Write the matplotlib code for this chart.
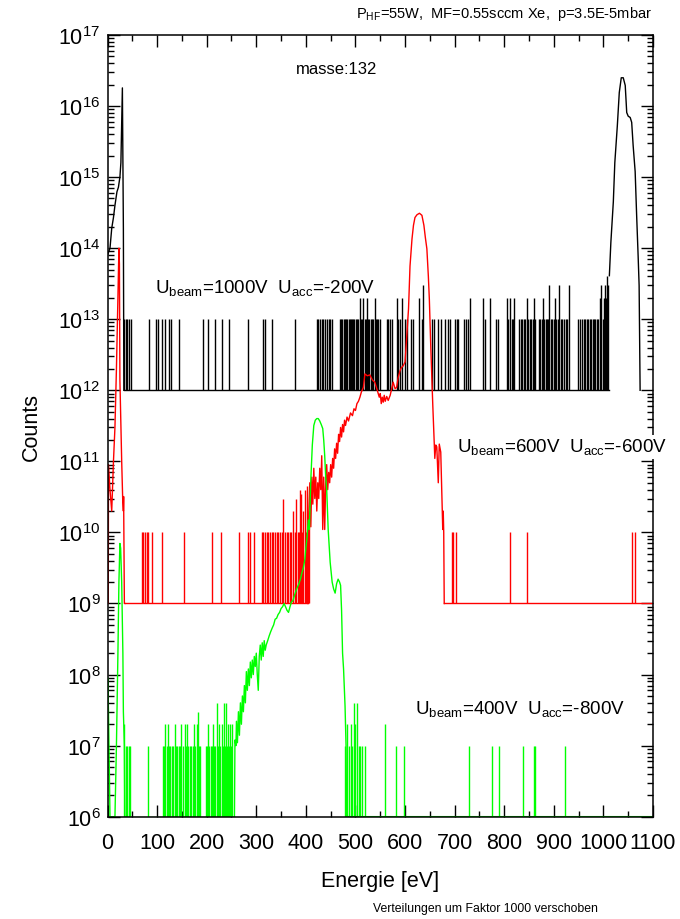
import numpy as np
import matplotlib
matplotlib.use("Agg")
import matplotlib.pyplot as plt
from matplotlib.ticker import LogLocator, NullFormatter, MultipleLocator

plt.rcParams['font.family'] = ['Liberation Sans', 'DejaVu Sans']

# ---- black: U_beam=1000V (shifted x1e6)
black_base = 1e12
black_pk1_x = [0, 5, 8.5, 12, 15, 19, 22, 25, 27, 30, 32, 33]
black_pk1_y = [8e13, 1.0e14, 1.9e14, 2.7e14, 4e14, 6.2e14, 7.2e14, 1e15, 1.6e15, 1.8e16, 1.9e14, 1e12]
black_pk2_x = [1012, 1015, 1020, 1023, 1028, 1032, 1036, 1040, 1044, 1047, 1050, 1054, 1057,
               1060, 1064, 1067, 1070, 1072, 1074]
black_pk2_y = [4.1e13, 1.2e14, 4.5e14, 1.6e15, 5.2e15, 1.55e16, 2.5e16, 2.5e16, 1.95e16, 8.1e15,
               7.2e15, 6.9e15, 5.9e15, 2.75e15, 1.2e15, 2.9e14, 7.8e13, 3e13, 1e12]
black_spk_x = [34, 37, 40, 44, 47, 84, 97, 102, 109, 115, 123, 128, 145, 193, 203,
               217, 230, 244, 284, 314, 318, 331, 379, 422, 425, 429, 432, 435, 439, 442, 446,
               449, 452, 469, 471, 473, 476, 478, 481, 483, 486, 488, 491, 493, 496, 498, 501,
               503, 506, 509, 511, 514, 516, 519, 521, 523, 526, 528, 531, 533, 536, 539, 541,
               544, 546, 549, 563, 566, 570, 573, 583, 586, 590, 593, 600, 603, 613, 616, 629,
               634, 636, 654, 658, 667, 672, 681, 686, 691, 701, 704, 707, 719, 722, 726, 731,
               758, 762, 771, 783, 788, 805, 808, 812, 815, 818, 820, 830, 833, 836, 839, 842,
               845, 848, 851, 854, 858, 860, 863, 871, 873, 876, 878, 881, 884, 887, 889, 891,
               894, 897, 900, 902, 905, 908, 911, 914, 917, 920, 924, 927, 931, 948, 952, 956,
               960, 963, 966, 969, 972, 975, 978, 981, 984, 987, 990, 993, 996, 999, 1001, 1004,
               1006, 1008, 1010]
black_spk_y = [1e13] * len(black_spk_x)
black_tall = {509: 2e13, 516: 2e13, 523: 2e13, 539: 2e13, 583: 2e13, 593: 2e13, 629: 2e13,
              636: 3e13, 731: 2e13, 758: 2e13, 771: 2e13, 805: 2e13, 812: 2e13, 820: 2e13,
              845: 2e13, 860: 2e13, 878: 2e13, 891: 3e13, 902: 2e13, 911: 3e13, 931: 3e13,
              993: 2e13, 996: 3e13, 1001: 2e13, 1004: 3e13, 1006: 2e13, 1008: 4e13, 1010: 3e13}

# ---- red: U_beam=600V (shifted x1e3)
red_base = 1e9
red_left_x = [0, 1.5, 2, 5, 8.5, 12, 15, 18, 21, 23, 24, 25, 28.6, 30.6, 32, 32.5, 33, 34, 35]
red_left_y = [1e9, 1e9, 9e10, 4e10, 2e10, 1e11, 3e11, 2e12, 2e13, 1e14, 6e13, 1.4e12, 1e11,
              3e10, 2e10, 3.2e10, 1e10, 1e9, 1e9]
red_ramp_x = [404, 406, 408, 410, 412, 414, 416, 418, 420, 422, 424, 426, 428, 430, 432, 434,
              436, 438, 440, 442, 444, 446, 448, 450, 452, 454, 456, 458, 460, 462, 464, 466,
              468, 470, 472, 474, 476, 478, 480, 483, 486, 490, 494, 497, 500, 503, 506, 509,
              512, 516, 519, 524, 529, 534, 539, 544, 548, 550, 552, 554, 556, 558, 560, 563,
              566, 570, 573, 576, 580, 583, 586, 590, 593, 596, 600, 603, 607, 610, 614, 617,
              620, 624, 629, 634, 638, 641, 644, 647, 649, 652, 656, 659, 660, 662, 664, 667,
              669, 672, 675, 676, 677, 678, 679]
red_ramp_y = [1e9, 2e10, 5e10, 1.2e10, 6e10, 2.5e10, 8e10, 3e10, 6e10, 2e10, 5e10, 3e10, 8e10,
              4e10, 1.2e11, 1.1e10, 6e10, 1.1e10, 5e10, 9e10, 4e10, 7e10, 5e10, 9e10, 6e10,
              1.1e11, 8e10, 1.5e11, 1.1e11, 1.8e11, 1.3e11, 2.4e11, 1.9e11, 3e11, 2.2e11,
              3.3e11, 2.6e11, 3.8e11, 3.2e11, 4.2e11, 3.7e11, 4.8e11, 4.4e11, 5.5e11, 5.2e11,
              6.5e11, 7e11, 8e11, 9.5e11, 1.1e12, 1.7e12, 1.6e12, 1.65e12, 1.4e12, 1.3e12,
              1e12, 8e11, 9e11, 6.5e11, 8e11, 6.8e11, 8.5e11, 7e11, 8.2e11, 7.2e11, 8.5e11,
              1.05e12, 1.3e12, 1.05e12, 1.1e12, 1.5e12, 1.9e12, 2.1e12, 2.2e12, 2.5e12,
              5.2e12, 1.4e13, 5.6e13, 1.35e14, 2.1e14, 2.7e14, 2.95e14, 3.1e14, 2.9e14,
              2.1e14, 1.4e14, 9.8e13, 4e13, 1.9e13, 3.8e12, 6e11, 1.7e11, 1.1e11, 1.7e11,
              1.6e11, 5e10, 1.75e11, 1.35e11, 2.1e10, 1.1e10, 2e10, 1e10, 1e9]
red_spk_x = [69, 72, 76, 79, 82, 89, 109, 155, 211, 229, 266, 284, 287, 295, 311, 314, 317,
             321, 324, 327, 331, 334, 337, 341, 344, 348, 351, 354, 358, 361, 364, 368, 371,
             375, 378, 381, 384, 386, 388, 391, 393, 395, 398, 400, 402, 404, 406,
             695, 697, 703, 812, 845, 1057, 1064]
red_spk_y = [1e10] * len(red_spk_x)
red_tall = {354: 3e10, 375: 2e10, 381: 3e10, 388: 4e10, 391: 3.5e10, 395: 2e10, 398: 4e10,
            402: 4.5e10, 406: 2e10}

# ---- green: U_beam=400V (not shifted)
green_base = 1e6
green_left_x = [0, 0.5, 2, 5, 15, 18, 21, 23, 25, 26.5, 28.6, 31, 32, 34, 35]
green_left_y = [1e6, 9e7, 3e7, 1e6, 1e6, 1e7, 2e8, 2e9, 7e9, 6e9, 2e9, 2e8, 3e7, 1e7, 1e6]
green_ramp_x = [256, 257, 259, 260, 262, 264, 266, 268, 270, 272, 274, 276, 278, 280, 282, 284,
                286, 288, 290, 292, 294, 296, 298, 300, 302, 304, 306, 308, 310, 312, 314, 316,
                318, 320, 323, 326, 329, 332, 335, 338, 341, 344, 347, 350, 353, 356, 359, 362,
                365, 368, 371, 374, 377, 380, 383, 386, 389, 392, 395, 398, 400, 402, 405, 407,
                410, 413, 416, 419, 422, 425, 428, 431, 434, 436, 438, 440, 442, 445, 449, 453,
                456, 459, 462, 465, 468, 470, 472, 474, 476, 479, 481, 482]
green_ramp_y = [1e6, 1.2e7, 1e7, 2.2e7, 1.1e7, 3e7, 1.4e7, 4e7, 2e7, 5e7, 3e7, 7e7, 4e7, 1.1e8,
                6e7, 1.2e8, 7e7, 1.5e8, 9e7, 1.6e8, 1e8, 1.8e8, 1.3e8, 2e8, 1e8, 6e7, 1.8e8,
                2.6e8, 1.6e8, 2.8e8, 1.8e8, 3e8, 2.2e8, 2.6e8, 3e8, 3.5e8, 4e8, 4.5e8, 5e8, 6e8,
                6.2e8, 7e8, 7.5e8, 8.5e8, 9e8, 1e9, 9e8, 8e8, 7.5e8, 9e8, 1.05e9, 1.1e9, 1.3e9,
                1.5e9, 1.7e9, 1.9e9, 2.2e9, 2.7e9, 3.2e9, 4.2e9, 6e9, 8e9, 1.5e10, 1.1e10,
                5.6e10, 1.7e11, 3.2e11, 3.8e11, 4e11, 4e11, 3.7e11, 3.3e11, 2.9e11, 2e11,
                1.2e11, 6e10, 4e10, 1.1e10, 3.8e9, 2e9, 1.6e9, 1.4e9, 1.9e9, 2.2e9, 2e9, 1.8e9,
                8e8, 2e8, 1.2e8, 3.6e7, 1e7, 1e6]
green_spk_x = [33, 37, 40, 43, 45, 81, 112, 114, 116, 119, 122, 124, 127, 131, 133, 136, 139,
               141, 144, 147, 149, 153, 156, 158, 161, 163, 166, 169, 172, 175, 177, 180, 182,
               184, 186, 198, 200, 203, 205, 208, 210, 213, 215, 217, 220, 222, 225, 227, 230,
               232, 235, 237, 239, 241, 243, 245, 248, 250, 252,
               479, 482, 486, 490, 494, 497, 500, 504, 507, 510, 514, 519, 560, 582, 597, 728,
               776, 790, 837, 860, 862, 923]
green_spk_y = [1e7] * len(green_spk_x)
green_tall = {33: 2e7, 116: 2e7, 122: 2e7, 136: 2e7, 149: 2e7, 156: 2e7, 161: 2e7, 175: 2e7,
              180: 2e7, 182: 3e7, 203: 2e7, 213: 2e7, 220: 4e7, 225: 2e7, 230: 2e7, 235: 4e7,
              239: 4e7, 243: 2e7, 248: 2e7, 252: 2e7, 482: 2e7, 490: 2e7, 497: 4e7, 500: 2e7,
              504: 4e7, 560: 2e7}

for i, x in enumerate(black_spk_x):
    black_spk_y[i] = black_tall.get(x, black_spk_y[i])
for i, x in enumerate(red_spk_x):
    red_spk_y[i] = red_tall.get(x, red_spk_y[i])
for i, x in enumerate(green_spk_x):
    green_spk_y[i] = green_tall.get(x, green_spk_y[i])

fig = plt.figure(figsize=(6.8, 9.2), dpi=100)
ax = fig.add_axes([0.1581, 0.1112, 0.8022, 0.8497])

lw = 1.0
# black
ax.plot(black_pk1_x, black_pk1_y, color='black', lw=lw)
ax.plot([33, 1012], [black_base, black_base], color='black', lw=lw)
ax.vlines(black_spk_x, black_base, black_spk_y, color='black', lw=lw)
ax.plot(black_pk2_x, black_pk2_y, color='black', lw=lw)
# red
ax.plot(red_left_x, red_left_y, color='red', lw=lw)
ax.plot([35, 404], [red_base, red_base], color='red', lw=lw)
ax.vlines(red_spk_x, red_base, red_spk_y, color='red', lw=lw)
ax.plot(red_ramp_x, red_ramp_y, color='red', lw=lw)
ax.plot([679, 1100], [red_base, red_base], color='red', lw=lw)
# green
ax.plot(green_left_x, green_left_y, color='#00ff00', lw=lw)
ax.plot([35, 256], [green_base, green_base], color='#00ff00', lw=lw)
ax.vlines(green_spk_x, green_base, green_spk_y, color='#00ff00', lw=lw)
ax.plot(green_ramp_x, green_ramp_y, color='#00ff00', lw=lw)
ax.plot([482, 1100], [green_base, green_base], color='#00ff00', lw=lw * 1.5)

ax.set_yscale('log')
ax.set_xlim(0, 1100)
ax.set_ylim(1e6, 1e17)
ax.xaxis.set_major_locator(MultipleLocator(100))
ax.xaxis.set_minor_locator(MultipleLocator(50))
ax.yaxis.set_major_locator(LogLocator(base=10, numticks=30))
ax.yaxis.set_minor_locator(LogLocator(base=10, subs=np.arange(2, 10), numticks=200))
ax.yaxis.set_minor_formatter(NullFormatter())
ax.tick_params(which='both', direction='in', top=True, right=True, width=1.0)
ax.tick_params(which='major', length=8.5, labelsize=15.5)
ax.tick_params(which='minor', length=4.2)
ax.tick_params(axis='x', which='major', pad=11)
ax.tick_params(axis='y', which='major', pad=5)
for s in ax.spines.values():
    s.set_linewidth(1.1)

ax.set_xlabel('Energie [eV]', fontsize=15.5, labelpad=12)
ax.set_ylabel('Counts', fontsize=15.5, labelpad=12)

ax.text(462, 2.9e16, 'masse:132', fontsize=12, ha='center', va='baseline')
ax.text(96, 2.4e13, r'U$_\mathdefault{beam}$=1000V  U$_\mathdefault{acc}$=-200V',
        fontsize=13.5, ha='left', va='baseline')
ax.text(705, 1.35e11, r'U$_\mathdefault{beam}$=600V  U$_\mathdefault{acc}$=-600V',
        fontsize=13.5, ha='left', va='baseline', clip_on=False,
        bbox=dict(facecolor='white', edgecolor='none', pad=1.5))
ax.text(620, 2.8e7, r'U$_\mathdefault{beam}$=400V  U$_\mathdefault{acc}$=-800V',
        fontsize=13.5, ha='left', va='baseline')

fig.text(652 / 680, 1 - 18 / 920,
         r'P$_\mathdefault{HF}$=55W,  MF=0.55sccm Xe,  p=3.5E-5mbar',
         fontsize=10.5, ha='right', va='baseline')
fig.text(485 / 680, 1 - 912 / 920, 'Verteilungen um Faktor 1000 verschoben',
         fontsize=8.8, ha='center', va='baseline')

fig.savefig('out.png', dpi=100)
